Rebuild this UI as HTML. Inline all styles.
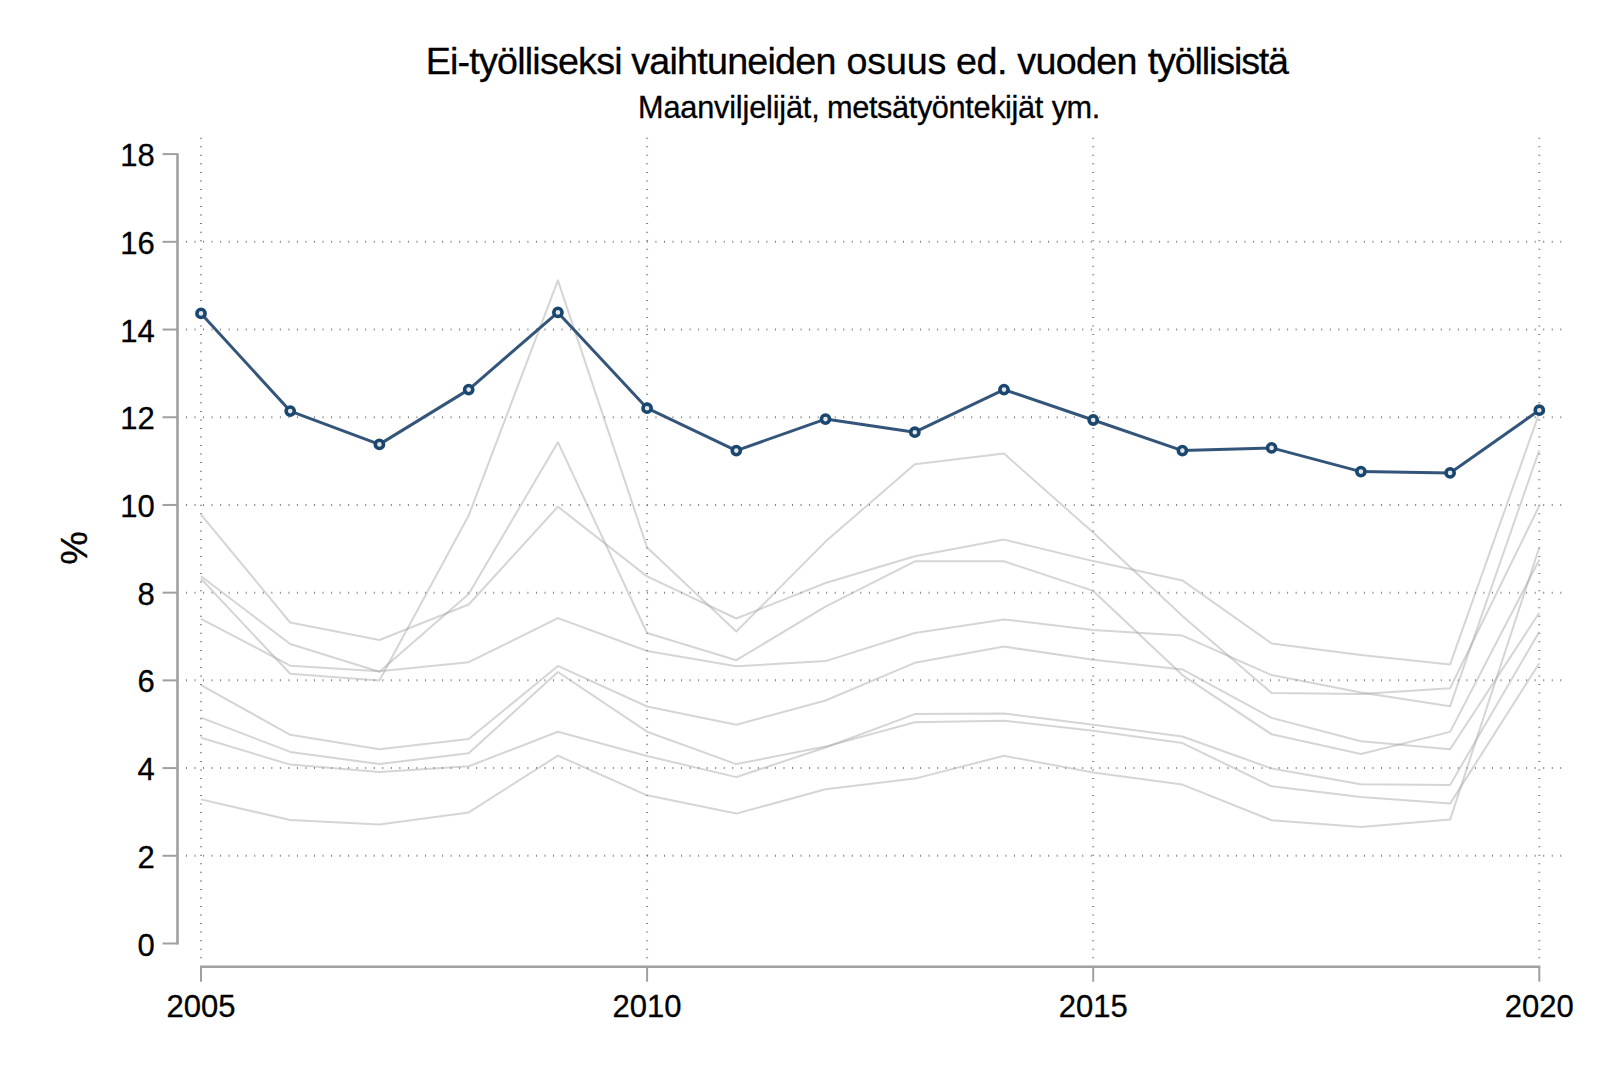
<!DOCTYPE html>
<html lang="fi"><head><meta charset="utf-8"><title>Ei-työlliseksi vaihtuneiden osuus</title>
<style>html,body{margin:0;padding:0;background:#fff}svg{display:block}text{font-family:"Liberation Sans",sans-serif;fill:#000;stroke:#000;stroke-width:0.3px}</style></head><body>
<svg width="1600" height="1067" viewBox="0 0 1600 1067">
<rect width="1600" height="1067" fill="#fff"/>
<g stroke="#808080" fill="none">
<line x1="185.97" y1="855.79" x2="1562" y2="855.79" stroke-width="2" stroke-dasharray="1 7.536"/>
<line x1="185.97" y1="768.08" x2="1562" y2="768.08" stroke-width="2" stroke-dasharray="1 7.536"/>
<line x1="185.97" y1="680.37" x2="1562" y2="680.37" stroke-width="2" stroke-dasharray="1 7.536"/>
<line x1="185.97" y1="592.66" x2="1562" y2="592.66" stroke-width="2" stroke-dasharray="1 7.536"/>
<line x1="185.97" y1="504.95" x2="1562" y2="504.95" stroke-width="2" stroke-dasharray="1 7.536"/>
<line x1="185.97" y1="417.24" x2="1562" y2="417.24" stroke-width="2" stroke-dasharray="1 7.536"/>
<line x1="185.97" y1="329.53" x2="1562" y2="329.53" stroke-width="2" stroke-dasharray="1 7.536"/>
<line x1="185.97" y1="241.82" x2="1562" y2="241.82" stroke-width="2" stroke-dasharray="1 7.536"/>
<line x1="201.00" y1="137.75" x2="201.00" y2="960" stroke-width="2" stroke-dasharray="1 7.536"/>
<line x1="647.10" y1="137.75" x2="647.10" y2="960" stroke-width="2" stroke-dasharray="1 7.536"/>
<line x1="1093.20" y1="137.75" x2="1093.20" y2="960" stroke-width="2" stroke-dasharray="1 7.536"/>
<line x1="1539.30" y1="137.75" x2="1539.30" y2="960" stroke-width="2" stroke-dasharray="1 7.536"/>
</g>
<g stroke="#a0a0a0" stroke-opacity="0.44" stroke-width="2.0" fill="none" stroke-linejoin="round">
<polyline points="201.0,514.6 290.2,622.5 379.4,640.0 468.7,604.5 557.9,506.7 647.1,576.4 736.3,618.5 825.5,583.0 914.8,556.3 1004.0,539.6 1093.2,561.1 1182.4,580.4 1271.6,643.5 1360.9,654.9 1450.1,664.4 1539.3,412.9"/>
<polyline points="201.0,576.2 290.2,644.0 379.4,671.8 468.7,594.0 557.9,442.2 647.1,633.0 736.3,660.2 825.5,606.7 914.8,561.3 1004.0,561.3 1093.2,590.9 1182.4,675.1 1271.6,734.3 1360.9,754.0 1450.1,731.9 1539.3,559.8"/>
<polyline points="201.0,618.8 290.2,665.7 379.4,671.2 468.7,662.2 557.9,618.1 647.1,651.0 736.3,666.3 825.5,661.1 914.8,633.0 1004.0,619.4 1093.2,629.9 1182.4,635.6 1271.6,675.1 1360.9,692.6 1450.1,706.2 1539.3,450.1"/>
<polyline points="201.0,578.8 290.2,673.8 379.4,680.6 468.7,515.5 557.9,280.4 647.1,547.5 736.3,631.5 825.5,541.6 914.8,464.2 1004.0,453.6 1093.2,532.6 1182.4,616.1 1271.6,692.9 1360.9,694.0 1450.1,688.3 1539.3,505.8"/>
<polyline points="201.0,685.1 290.2,734.8 379.4,749.2 468.7,739.1 557.9,665.9 647.1,706.5 736.3,724.7 825.5,700.5 914.8,662.8 1004.0,646.6 1093.2,659.8 1182.4,669.4 1271.6,717.9 1360.9,741.3 1450.1,749.2 1539.3,612.8"/>
<polyline points="201.0,717.6 290.2,751.9 379.4,764.1 468.7,753.2 557.9,672.0 647.1,731.7 736.3,764.1 825.5,746.6 914.8,722.2 1004.0,720.7 1093.2,730.8 1182.4,743.1 1271.6,786.3 1360.9,797.0 1450.1,803.6 1539.3,663.3"/>
<polyline points="201.0,737.8 290.2,764.6 379.4,772.0 468.7,766.3 557.9,731.7 647.1,756.0 736.3,777.1 825.5,747.5 914.8,714.1 1004.0,713.5 1093.2,724.7 1182.4,736.5 1271.6,768.5 1360.9,784.3 1450.1,785.0 1539.3,631.7"/>
<polyline points="201.0,799.4 290.2,820.0 379.4,824.5 468.7,812.4 557.9,755.6 647.1,795.3 736.3,813.6 825.5,789.3 914.8,778.6 1004.0,755.8 1093.2,772.5 1182.4,784.6 1271.6,820.3 1360.9,827.1 1450.1,819.6 1539.3,547.5"/>
</g>
<g stroke="#a0a0a0" fill="none" stroke-width="2.6">
<line x1="177.5" y1="153.21" x2="177.5" y2="944.40"/>
<line x1="200.00" y1="966.75" x2="1540.30" y2="966.75"/>
</g>
<g stroke="#a0a0a0" fill="none" stroke-width="2.0">
<line x1="162.5" y1="943.50" x2="177.5" y2="943.50"/>
<line x1="162.5" y1="855.79" x2="177.5" y2="855.79"/>
<line x1="162.5" y1="768.08" x2="177.5" y2="768.08"/>
<line x1="162.5" y1="680.37" x2="177.5" y2="680.37"/>
<line x1="162.5" y1="592.66" x2="177.5" y2="592.66"/>
<line x1="162.5" y1="504.95" x2="177.5" y2="504.95"/>
<line x1="162.5" y1="417.24" x2="177.5" y2="417.24"/>
<line x1="162.5" y1="329.53" x2="177.5" y2="329.53"/>
<line x1="162.5" y1="241.82" x2="177.5" y2="241.82"/>
<line x1="162.5" y1="154.11" x2="177.5" y2="154.11"/>
<line x1="201.00" y1="966.75" x2="201.00" y2="981.7"/>
<line x1="647.10" y1="966.75" x2="647.10" y2="981.7"/>
<line x1="1093.20" y1="966.75" x2="1093.20" y2="981.7"/>
<line x1="1539.30" y1="966.75" x2="1539.30" y2="981.7"/>
</g>
<polyline points="201.0,313.4 290.2,411.1 379.4,444.4 468.7,389.6 557.9,312.4 647.1,408.2 736.3,450.6 825.5,419.1 914.8,432.2 1004.0,389.6 1093.2,420.0 1182.4,450.6 1271.6,447.9 1360.9,471.6 1450.1,472.9 1539.3,410.2" fill="none" stroke="#34557a" stroke-width="3.0" stroke-linejoin="round"/>
<g fill="#e6e6e6" stroke="#1a476f" stroke-width="3.6">
<circle cx="201.0" cy="313.4" r="4.1"/>
<circle cx="290.2" cy="411.1" r="4.1"/>
<circle cx="379.4" cy="444.4" r="4.1"/>
<circle cx="468.7" cy="389.6" r="4.1"/>
<circle cx="557.9" cy="312.4" r="4.1"/>
<circle cx="647.1" cy="408.2" r="4.1"/>
<circle cx="736.3" cy="450.6" r="4.1"/>
<circle cx="825.5" cy="419.1" r="4.1"/>
<circle cx="914.8" cy="432.2" r="4.1"/>
<circle cx="1004.0" cy="389.6" r="4.1"/>
<circle cx="1093.2" cy="420.0" r="4.1"/>
<circle cx="1182.4" cy="450.6" r="4.1"/>
<circle cx="1271.6" cy="447.9" r="4.1"/>
<circle cx="1360.9" cy="471.6" r="4.1"/>
<circle cx="1450.1" cy="472.9" r="4.1"/>
<circle cx="1539.3" cy="410.2" r="4.1"/>
</g>
<text y="73.8" font-size="37.7"><tspan x="425.7" letter-spacing="-0.804">Ei-työlliseksi </tspan><tspan x="631.25" letter-spacing="-0.777">vaihtuneiden </tspan><tspan x="846.6" letter-spacing="-0.225">osuus </tspan><tspan x="955.9" letter-spacing="-0.425">ed. </tspan><tspan x="1017.25" letter-spacing="-0.7">vuoden </tspan><tspan x="1147.8" letter-spacing="-1.16">työllisistä</tspan></text>
<text y="118" font-size="30.7"><tspan x="638.0" letter-spacing="-0.179">Maanviljelijät, </tspan><tspan x="827.0" letter-spacing="-0.367">metsätyöntekijät </tspan><tspan x="1051.65" letter-spacing="-0.4">ym.</tspan></text>
<g font-size="31" text-anchor="end">
<text x="154.7" y="955.60">0</text>
<text x="154.7" y="867.89">2</text>
<text x="154.7" y="780.18">4</text>
<text x="154.7" y="692.47">6</text>
<text x="154.7" y="604.76">8</text>
<text x="154.7" y="517.05">10</text>
<text x="154.7" y="429.34">12</text>
<text x="154.7" y="341.63">14</text>
<text x="154.7" y="253.92">16</text>
<text x="154.7" y="166.21">18</text>
</g>
<g font-size="31" text-anchor="middle">
<text x="201.00" y="1016.5">2005</text>
<text x="647.10" y="1016.5">2010</text>
<text x="1093.20" y="1016.5">2015</text>
<text x="1539.30" y="1016.5">2020</text>
</g>
<text transform="translate(87.2,548) rotate(-90)" font-size="37.7" text-anchor="middle">%</text>
</svg></body></html>
